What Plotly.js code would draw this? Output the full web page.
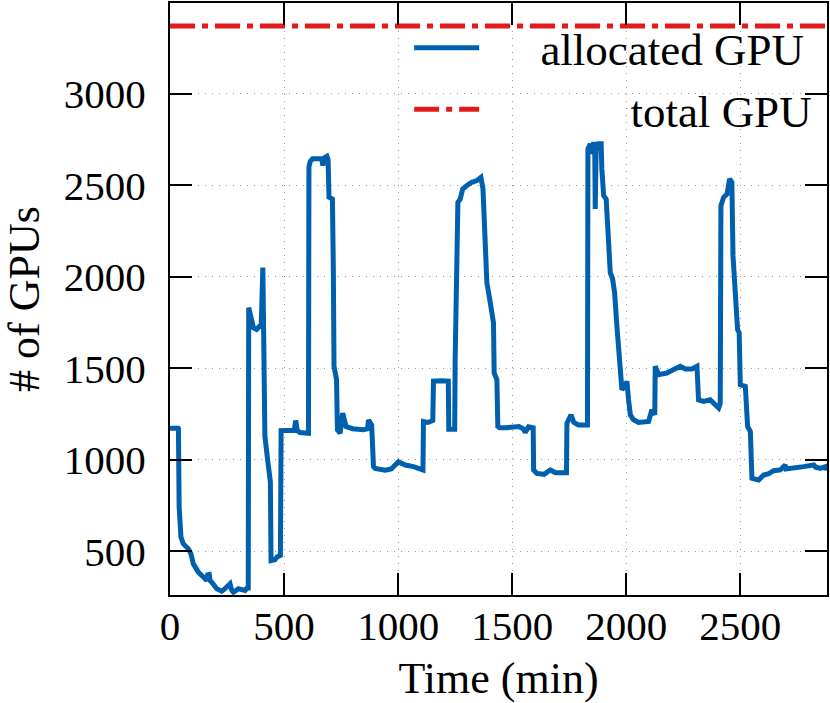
<!DOCTYPE html>
<html>
<head>
<meta charset="utf-8">
<script src="https://cdn.plot.ly/plotly-3.0.1.min.js"></script>
<style>
  html, body { margin: 0; padding: 0; background: #fff; }
  #myGraph { width: 830px; height: 703px; }
</style>
</head>
<body>
<div id="myGraph"></div>
<script>
"use strict";

// time (min)
var times = [
    0, 30, 34, 37, 40, 43, 48, 58, 70, 80, 92, 102, 113, 124, 146, 161, 165, 172, 176, 183,
    205, 227, 240, 263, 270, 278, 300, 320, 329, 338, 343, 345, 356, 366, 380, 392, 400, 407, 416,
    428, 440, 443, 460, 470, 478, 484, 487, 520, 545, 551, 558, 570, 607, 609, 615, 625, 650, 665, 670,
    677, 688, 693, 697, 712, 716, 719, 730, 734, 746, 757, 772, 800, 848, 866, 870, 884, 892, 899, 943,
    970, 1001, 1031, 1067, 1104, 1109, 1111, 1130, 1152, 1155, 1190, 1220, 1222, 1248, 1250, 1262, 1272, 1283, 1300, 1323,
    1345, 1363, 1372, 1377, 1381, 1389, 1404, 1418, 1421, 1433, 1437, 1445, 1470, 1500, 1530, 1550, 1557, 1572, 1586, 1592,
    1594, 1608, 1640, 1667, 1690, 1732, 1738, 1740, 1758, 1770, 1790, 1830, 1832, 1843, 1850, 1857, 1862, 1864, 1868, 1878,
    1890, 1893, 1901, 1912, 1919, 1930, 1940, 1949, 1959, 1970, 1978, 1981, 1998, 2003, 2010, 2018, 2032, 2054, 2098, 2112,
    2125, 2127, 2142, 2178, 2208, 2237, 2259, 2288, 2310, 2313, 2317, 2339, 2368, 2390, 2405, 2412, 2415, 2427, 2442, 2453,
    2463, 2468, 2478, 2488, 2495, 2500, 2522, 2532, 2544, 2551, 2580, 2602, 2625, 2646, 2675, 2697, 2700, 2734, 2778, 2822,
    2830, 2851, 2873, 2876, 2880
];

// allocated GPU
var allocated = [
    1173, 1173, 1180, 1170, 743, 688, 579, 542, 530, 515, 487, 433, 410, 387, 360, 341, 372, 374, 340, 332,
    296, 283, 295, 323, 290, 277, 296, 285, 287, 300, 300, 1831, 1767, 1721, 1712, 1730, 1739, 2050, 1130,
    1000, 880, 450, 455, 470, 478, 478, 1160, 1160, 1162, 1215, 1160, 1149, 1145, 2600, 2630, 2644, 2647, 2645, 2607,
    2650, 2658, 2640, 2434, 2424, 2041, 1511, 1438, 1164, 1145, 1255, 1182, 1170, 1164, 1170, 1218, 1190, 963, 953, 944,
    950, 990, 972, 963, 953, 945, 1209, 1204, 1215, 1430, 1432, 1430, 1167, 1167, 1547, 2406, 2424, 2479, 2497, 2516,
    2525, 2543, 2479, 2296, 2169, 1968, 1858, 1748, 1474, 1438, 1182, 1175, 1175, 1178, 1182, 1168, 1150, 1180, 1178, 1175,
    945, 926, 921, 945, 930, 926, 930, 1200, 1246, 1205, 1191, 1191, 2699, 2726, 2671, 2735, 2690, 2370, 2690, 2726,
    2726, 2589, 2443, 2424, 2205, 2022, 1990, 1913, 1730, 1547, 1474, 1383, 1410, 1429, 1328, 1246, 1219, 1204, 1210, 1273,
    1246, 1511, 1465, 1474, 1493, 1511, 1496, 1496, 1511, 1420, 1328, 1319, 1328, 1301, 1283, 1310, 2388, 2434, 2452, 2534,
    2516, 2114, 1931, 1712, 1694, 1410, 1401, 1182, 1155, 899, 890, 917, 925, 941, 945, 972, 950, 954, 963, 972,
    960, 954, 963, 945, 960
];

// total GPU
var totalGPU = 3370;
var timeSpan = [0, 2880];
var gpuSpan = [262, 3495];

// tick values
var xTicks = [0, 500, 1000, 1500, 2000, 2500];
var yTicks = [500, 1000, 1500, 2000, 2500, 3000];

plotData('myGraph');

// plot data
function plotData(id) {
    var fontFamily = 'Liberation Serif, DejaVu Serif, serif';
    var nb = '\u00a0';

    var line1 = {
	x: times,
	y: allocated,
	mode: 'lines',
	line: {color: '#0060ad', width: 5},
	name: nb.repeat(5) + 'allocated GPU'
    };
    var line2 = {
	x: timeSpan,
	y: [totalGPU, totalGPU],
	mode: 'lines',
	line: {color: '#e31a1c', width: 5, dash: '25px,7px,6px,7px'},
	name: nb.repeat(13) + 'total GPU'
    };

    // box with inside ticks on all four sides
    var axisCommon = {
	showline: true,
	linecolor: '#000',
	linewidth: 2,
	mirror: 'ticks',
	ticks: 'inside',
	ticklen: 22,
	tickwidth: 2,
	tickcolor: '#000',
	showgrid: true,
	gridcolor: '#999',
	gridwidth: 1,
	griddash: '1px,6px',
	zeroline: false,
	tickfont: {family: fontFamily, size: 41, color: '#000'}
    };

    var layout = {
	width: 830,
	height: 703,
	margin: {l: 170, r: 3, t: 3, b: 108},
	paper_bgcolor: '#fff',
	plot_bgcolor: '#fff',
	font: {family: fontFamily, color: '#000'},
	showlegend: true,
	legend: {
	    x: 0.985, xanchor: 'right',
	    y: 0.985, yanchor: 'top',
	    bgcolor: 'rgba(0,0,0,0)',
	    font: {family: fontFamily, size: 45, color: '#000'},
	    itemwidth: 65,
	    tracegroupgap: 0
	},
	xaxis: Object.assign({}, axisCommon, {
	    range: timeSpan,
	    tickvals: xTicks,
	    ticklabelstandoff: -6,
	    title: {text: 'Time (min)', font: {family: fontFamily, size: 44}, standoff: 14}
	}),
	yaxis: Object.assign({}, axisCommon, {
	    range: gpuSpan,
	    tickvals: yTicks,
	    ticklabelstandoff: 14,
	    title: {text: '# of GPUs', font: {family: fontFamily, size: 44}, standoff: 22}
	})
    };

    Plotly.newPlot(id, [line1, line2], layout, {displayModeBar: false, staticPlot: true});
}
</script>
</body>
</html>
